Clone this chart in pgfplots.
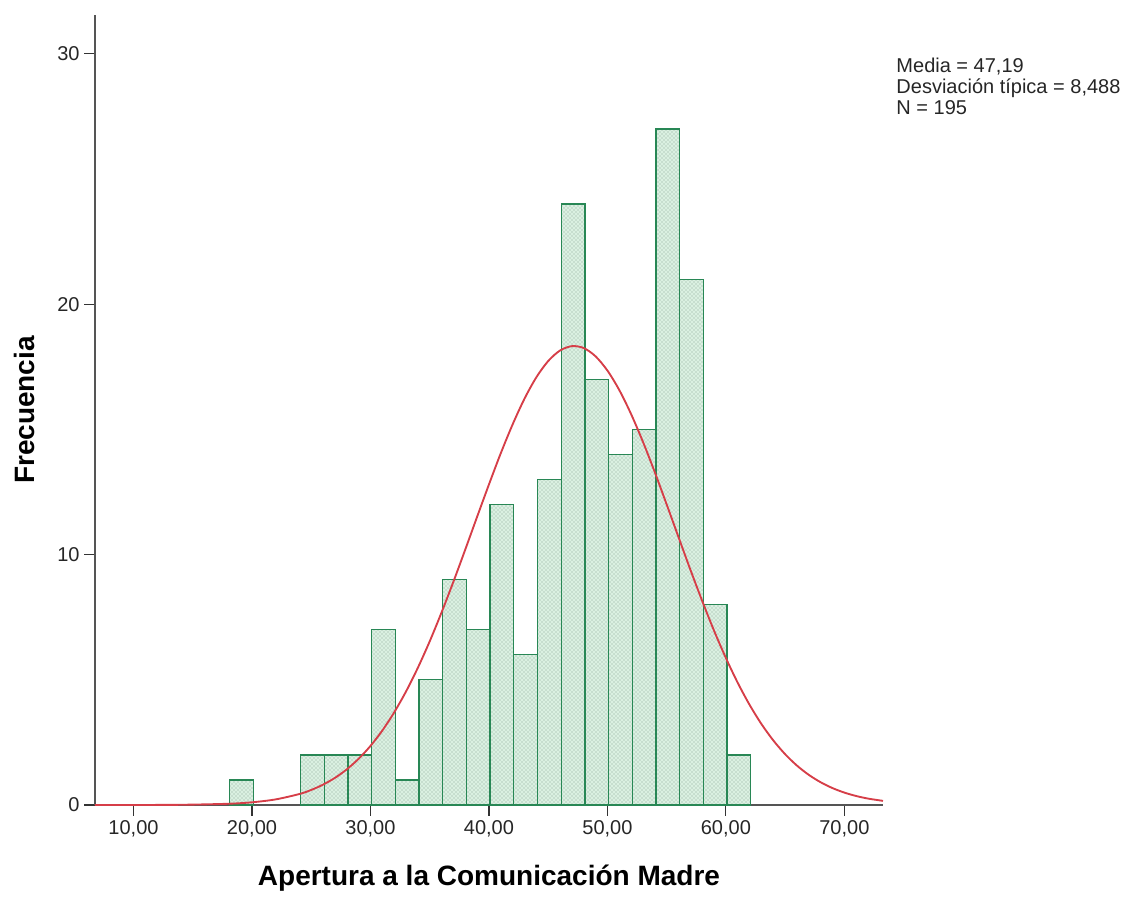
\documentclass[border=0pt]{standalone}
\usepackage{pgfplots}
\pgfplotsset{compat=1.18}
\usepackage{fontspec}
\setmainfont{Liberation Sans}
\usetikzlibrary{patterns}
\definecolor{bargreen}{RGB}{40,135,85}
\definecolor{barfill}{RGB}{218,240,225}
\definecolor{dotcol}{RGB}{140,165,150}
\definecolor{curvered}{RGB}{214,62,72}
\definecolor{axgray}{RGB}{85,85,85}
\begin{document}
\begin{tikzpicture}
\useasboundingbox (-71.25pt,-68.25pt) rectangle (785.25pt,603.75pt);
\begin{axis}[
  at={(0,0)}, anchor=south west,
  scale only axis, width=591pt, height=592.5pt,
  xmin=6.75, xmax=73.26, ymin=0, ymax=31.55,
  axis lines=left,
  axis line style={-, draw=axgray, line width=0.8pt},
  tick align=outside,
  major tick length=8pt,
  tick style={draw=black!80, line width=0.9pt},
  xtick={10,20,30,40,50,60,70},
  xticklabels={{10,00},{20,00},{30,00},{40,00},{50,00},{60,00},{70,00}},
  ytick={0,10,20,30},
  /pgf/number format/assume math mode=true,
  ticklabel style={font=\fontsize{15pt}{18pt}\selectfont, text=black!85},
  xlabel={Apertura a la Comunicación Madre},
  ylabel={Frecuencia},
  label style={font=\fontsize{21pt}{25pt}\selectfont\bfseries, text=black},
  xlabel style={at={(axis description cs:0.5,-0.1016)}, anchor=base},
  ylabel style={at={(axis description cs:-0.0768,0.5)}, anchor=base, rotate=0},
  clip=false,
]
\addplot[ybar interval, draw=bargreen, line width=1pt, fill=barfill,
  postaction={pattern=crosshatch dots, pattern color=dotcol}]
  coordinates {(18.1,1) (20.1,1)};
\addplot[ybar interval, draw=bargreen, line width=1pt, fill=barfill,
  postaction={pattern=crosshatch dots, pattern color=dotcol}]
  coordinates {
  (24.1,2) (26.1,2) (28.1,2) (30.1,7) (32.1,1) (34.1,5) (36.1,9) (38.1,7)
  (40.1,12) (42.1,6) (44.1,13) (46.1,24) (48.1,17) (50.1,14) (52.1,15)
  (54.1,27) (56.1,21) (58.1,8) (60.1,2) (62.1,2)};
\addplot[smooth, draw=curvered, line width=1.4pt] coordinates {
  (6.75,0.0002) (10,0.0012) (14,0.0088) (18,0.0495) (20,0.108) (22,0.224)
  (24,0.439) (25,0.601) (26,0.813) (27,1.083) (28,1.423) (29,1.845)
  (30,2.358) (31,2.973) (32,3.697) (33,4.532) (34,5.48) (35,6.535)
  (36,7.69) (37,8.916) (38,10.20) (39,11.508) (40,12.80) (41,14.05)
  (42,15.20) (43,16.227) (44,17.08) (45,17.73) (46,18.15) (47,18.325)
  (48,18.25) (49,17.918) (50,17.35) (51,16.573) (52,15.61) (53,14.502)
  (54,13.29) (55,12.004) (56,10.70) (57,9.400) (58,8.15) (59,6.962)
  (60,5.87) (61,4.879) (62,4.00) (63,3.234) (64,2.58) (65,2.029)
  (66,1.573) (67,1.203) (68,0.908) (69,0.675) (70,0.4955) (71,0.3586)
  (72,0.256) (73.26,0.165)};
\end{axis}
\node[anchor=base west, inner sep=0, font=\fontsize{15pt}{18pt}\selectfont, text=black!85] at (600.9pt,549.3pt) {Media = 47,19};
\node[anchor=base west, inner sep=0, font=\fontsize{15pt}{18pt}\selectfont, text=black!85] at (600.9pt,533.4pt) {Desviación típica = 8,488};
\node[anchor=base west, inner sep=0, font=\fontsize{15pt}{18pt}\selectfont, text=black!85] at (600.9pt,518pt) {N = 195};
\end{tikzpicture}
\end{document}
